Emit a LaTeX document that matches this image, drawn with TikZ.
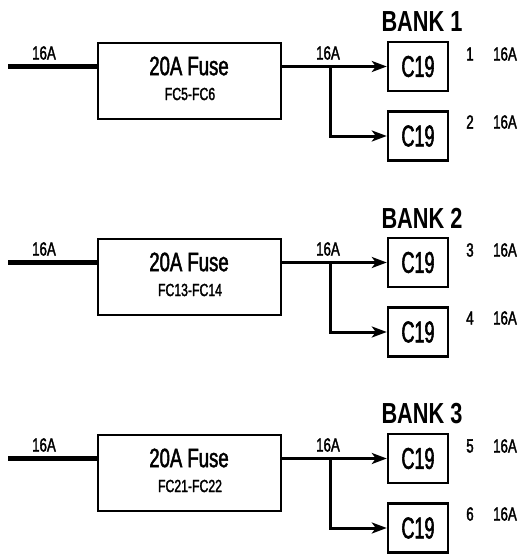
\documentclass[tikz,border=0pt]{standalone}
\usepackage{fontspec}
\setmainfont{Liberation Sans}[FakeStretch=0.75]
\newfontfamily\lblfont{Liberation Sans}[FakeStretch=0.7,FakeBold=1.8]
\newfontfamily\cnarrow{Liberation Sans}[FakeStretch=0.6,FakeBold=1.8]
\usetikzlibrary{arrows.meta}

\begin{document}
\begin{tikzpicture}[x=1pt,y=-1pt,
  fusebox/.style={draw,line width=2.4pt,minimum width=183pt,minimum height=76pt,inner sep=0pt},
  outlet/.style={draw,line width=2.4pt,minimum width=60pt,minimum height=49pt,inner sep=0pt,
    font=\cnarrow\fontsize{30}{30}\selectfont},
  amps/.style={inner sep=0pt,font=\lblfont\fontsize{19}{19}\selectfont},
  feed/.style={line width=5pt},
  wire/.style={line width=3pt,-{Stealth[length=15pt,width=11pt,inset=4pt]}}]
  \useasboundingbox (0,0) rectangle (521,555);
  \foreach \bk/\y/\fc/\na/\nb in {1/0/FC5-FC6/1/2, 2/196/FC13-FC14/3/4, 3/392/FC21-FC22/5/6} {
    \node[fusebox] (fuse\bk) at (189.5,81+\y) {};
    \node[inner sep=0pt,font=\lblfont\fontsize{26.5}{26.5}\selectfont] (name\bk) at (189,66+\y) {20A Fuse};
    \node[inner sep=0pt,font=\lblfont\fontsize{17.5}{17.5}\selectfont] (fc\bk) at (190,94+\y) {\fc};
    \node[inner sep=0pt,font=\bfseries\fontsize{29}{29}\selectfont] (bank\bk) at (422,22+\y) {BANK \bk};
    \node[outlet] (outA\bk) at (418,66.5+\y) {C19};
    \node[outlet] (outB\bk) at (418,136+\y) {C19};
    % currents and outlet numbers
    \node[amps] (inamp\bk) at (44,53+\y) {16A};
    \node[amps] (outamp\bk) at (328,53+\y) {16A};
    \node[amps] (numA\bk) at (470,54+\y) {\na};
    \node[amps] (ampA\bk) at (505,54+\y) {16A};
    \node[amps] (numB\bk) at (470,122+\y) {\nb};
    \node[amps] (ampB\bk) at (505,122+\y) {16A};
    \coordinate (src\bk) at (8,66+\y);
    \coordinate (split\bk) at (330,66+\y);
    \draw[feed] (src\bk) -- (src\bk -| fuse\bk.west);
    \draw[wire] (fuse\bk.east |- outA\bk.west) -- (outA\bk.west);
    \draw[wire] (split\bk) |- (outB\bk.west);
  }
\end{tikzpicture}
\end{document}
